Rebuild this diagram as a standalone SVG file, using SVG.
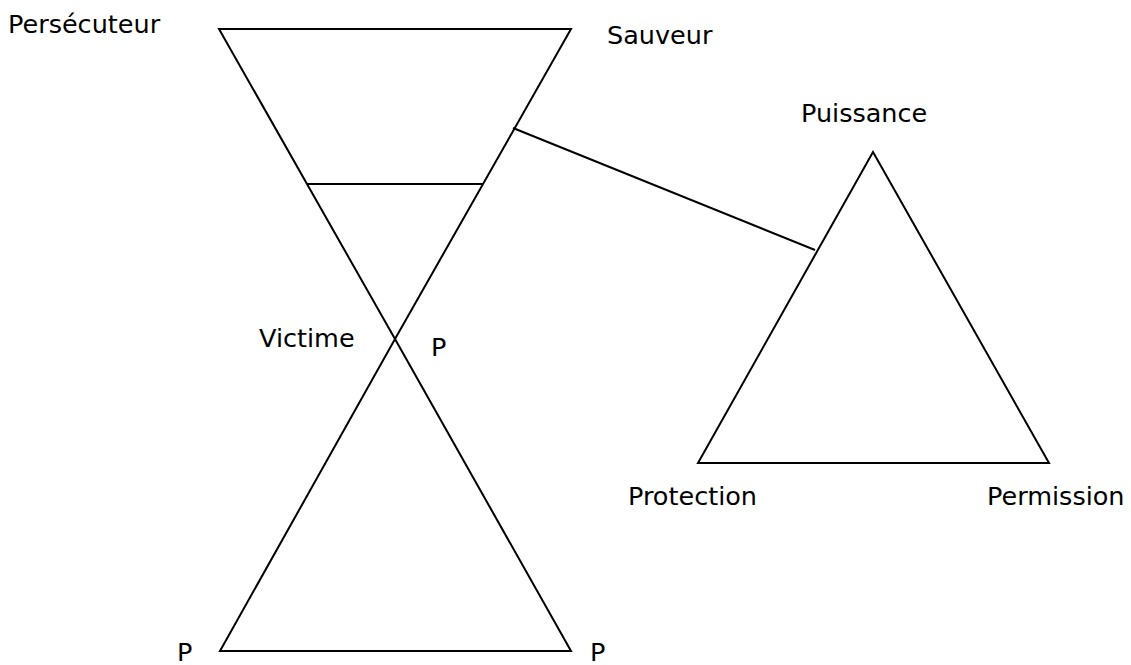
<svg xmlns="http://www.w3.org/2000/svg" width="1131" height="665" viewBox="0 0 1131 665">
<style>
.shape{fill:none;stroke:#000;stroke-width:2;stroke-linejoin:miter}
.lbl{font-family:"DejaVu Sans",Verdana,sans-serif;font-size:25.5px;fill:#000}
</style>
<rect width="1131" height="665" fill="#fff"/>
<g id="hourglass-top">
<polygon class="shape" points="219,29 571,29 395,339"/>
<line class="shape" x1="307" y1="184" x2="483" y2="184"/>
</g>
<g id="hourglass-bottom">
<polygon class="shape" points="395,339 571,651 220,651"/>
</g>
<g id="power-triangle">
<polygon class="shape" points="873,152 1049,463 698,463"/>
</g>
<g id="connectors">
<line class="shape" x1="513" y1="128" x2="815" y2="250"/>
</g>
<g id="labels">
<text class="lbl" x="8" y="33">Persécuteur</text>
<text class="lbl" x="607" y="44">Sauveur</text>
<text class="lbl" x="801" y="122">Puissance</text>
<text class="lbl" x="259" y="347">Victime</text>
<text class="lbl" x="431" y="356">P</text>
<text class="lbl" x="177" y="661">P</text>
<text class="lbl" x="590" y="661">P</text>
<text class="lbl" x="628" y="505">Protection</text>
<text class="lbl" x="987" y="505">Permission</text>
</g>
</svg>
